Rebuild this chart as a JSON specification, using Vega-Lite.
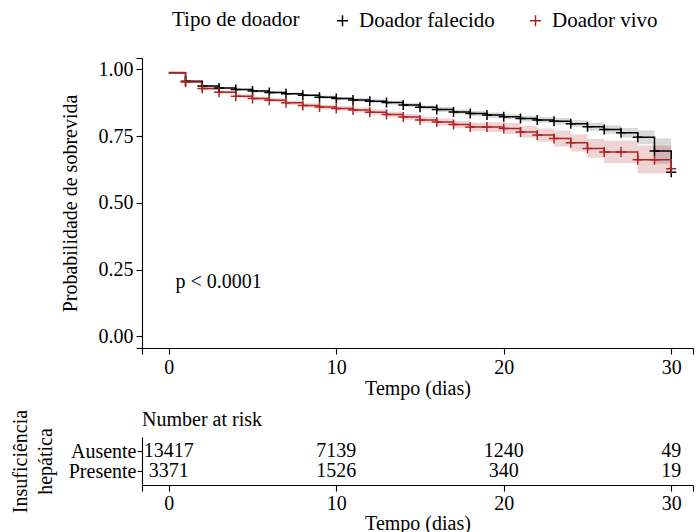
{
  "$schema": "https://vega.github.io/schema/vega-lite/v6.json",
  "padding": {"left": 10, "top": 10, "right": 2, "bottom": 0},
  "background": "white",
  "config": {
    "font": "Liberation Serif",
    "view": {"stroke": null},
    "axis": {"grid": false, "labelFontSize": 20, "titleFontSize": 20, "titleFontWeight": "normal", "labelColor": "black", "titleColor": "black", "domainColor": "black", "tickColor": "black", "domainWidth": 1.1, "tickWidth": 1.1, "tickSize": 6},
    "legend": {"titleFontSize": 21, "labelFontSize": 21, "titleFontWeight": "normal", "titleColor": "black", "labelColor": "black"},
    "text": {"font": "Liberation Serif", "fontSize": 20, "color": "black"},
    "title": {"font": "Liberation Serif", "fontSize": 20, "fontWeight": "normal", "color": "black"}
  },
  "datasets": {
    "km": [
      {"grupo": "Doador falecido", "t": 0, "s": 0.988, "lo": 0.984, "hi": 0.992},
      {"grupo": "Doador falecido", "t": 1, "s": 0.956, "lo": 0.952, "hi": 0.960},
      {"grupo": "Doador falecido", "t": 2, "s": 0.938, "lo": 0.934, "hi": 0.942},
      {"grupo": "Doador falecido", "t": 3, "s": 0.931, "lo": 0.927, "hi": 0.935},
      {"grupo": "Doador falecido", "t": 4, "s": 0.925, "lo": 0.921, "hi": 0.929},
      {"grupo": "Doador falecido", "t": 5, "s": 0.919, "lo": 0.914, "hi": 0.924},
      {"grupo": "Doador falecido", "t": 6, "s": 0.914, "lo": 0.909, "hi": 0.919},
      {"grupo": "Doador falecido", "t": 7, "s": 0.909, "lo": 0.904, "hi": 0.914},
      {"grupo": "Doador falecido", "t": 8, "s": 0.903, "lo": 0.898, "hi": 0.908},
      {"grupo": "Doador falecido", "t": 9, "s": 0.896, "lo": 0.890, "hi": 0.902},
      {"grupo": "Doador falecido", "t": 10, "s": 0.891, "lo": 0.885, "hi": 0.897},
      {"grupo": "Doador falecido", "t": 11, "s": 0.886, "lo": 0.879, "hi": 0.893},
      {"grupo": "Doador falecido", "t": 12, "s": 0.881, "lo": 0.874, "hi": 0.888},
      {"grupo": "Doador falecido", "t": 13, "s": 0.876, "lo": 0.869, "hi": 0.883},
      {"grupo": "Doador falecido", "t": 14, "s": 0.867, "lo": 0.859, "hi": 0.875},
      {"grupo": "Doador falecido", "t": 15, "s": 0.858, "lo": 0.850, "hi": 0.866},
      {"grupo": "Doador falecido", "t": 16, "s": 0.850, "lo": 0.841, "hi": 0.859},
      {"grupo": "Doador falecido", "t": 17, "s": 0.841, "lo": 0.832, "hi": 0.850},
      {"grupo": "Doador falecido", "t": 18, "s": 0.835, "lo": 0.826, "hi": 0.844},
      {"grupo": "Doador falecido", "t": 19, "s": 0.829, "lo": 0.819, "hi": 0.839},
      {"grupo": "Doador falecido", "t": 20, "s": 0.823, "lo": 0.813, "hi": 0.833},
      {"grupo": "Doador falecido", "t": 21, "s": 0.816, "lo": 0.805, "hi": 0.827},
      {"grupo": "Doador falecido", "t": 22, "s": 0.811, "lo": 0.800, "hi": 0.822},
      {"grupo": "Doador falecido", "t": 23, "s": 0.806, "lo": 0.794, "hi": 0.818},
      {"grupo": "Doador falecido", "t": 24, "s": 0.797, "lo": 0.784, "hi": 0.810},
      {"grupo": "Doador falecido", "t": 25, "s": 0.785, "lo": 0.770, "hi": 0.800},
      {"grupo": "Doador falecido", "t": 26, "s": 0.775, "lo": 0.759, "hi": 0.791},
      {"grupo": "Doador falecido", "t": 27, "s": 0.763, "lo": 0.745, "hi": 0.781},
      {"grupo": "Doador falecido", "t": 28, "s": 0.746, "lo": 0.720, "hi": 0.772},
      {"grupo": "Doador falecido", "t": 29, "s": 0.694, "lo": 0.647, "hi": 0.741},
      {"grupo": "Doador falecido", "t": 30, "s": 0.615, "lo": 0.565, "hi": 0.665},
      {"grupo": "Doador vivo", "t": 0, "s": 0.988, "lo": 0.983, "hi": 0.993},
      {"grupo": "Doador vivo", "t": 1, "s": 0.953, "lo": 0.948, "hi": 0.958},
      {"grupo": "Doador vivo", "t": 2, "s": 0.929, "lo": 0.923, "hi": 0.935},
      {"grupo": "Doador vivo", "t": 3, "s": 0.915, "lo": 0.909, "hi": 0.921},
      {"grupo": "Doador vivo", "t": 4, "s": 0.900, "lo": 0.893, "hi": 0.907},
      {"grupo": "Doador vivo", "t": 5, "s": 0.891, "lo": 0.884, "hi": 0.898},
      {"grupo": "Doador vivo", "t": 6, "s": 0.885, "lo": 0.878, "hi": 0.892},
      {"grupo": "Doador vivo", "t": 7, "s": 0.875, "lo": 0.867, "hi": 0.883},
      {"grupo": "Doador vivo", "t": 8, "s": 0.865, "lo": 0.857, "hi": 0.873},
      {"grupo": "Doador vivo", "t": 9, "s": 0.859, "lo": 0.850, "hi": 0.868},
      {"grupo": "Doador vivo", "t": 10, "s": 0.854, "lo": 0.845, "hi": 0.863},
      {"grupo": "Doador vivo", "t": 11, "s": 0.848, "lo": 0.839, "hi": 0.857},
      {"grupo": "Doador vivo", "t": 12, "s": 0.840, "lo": 0.830, "hi": 0.850},
      {"grupo": "Doador vivo", "t": 13, "s": 0.831, "lo": 0.820, "hi": 0.842},
      {"grupo": "Doador vivo", "t": 14, "s": 0.822, "lo": 0.811, "hi": 0.833},
      {"grupo": "Doador vivo", "t": 15, "s": 0.811, "lo": 0.799, "hi": 0.823},
      {"grupo": "Doador vivo", "t": 16, "s": 0.803, "lo": 0.790, "hi": 0.816},
      {"grupo": "Doador vivo", "t": 17, "s": 0.794, "lo": 0.780, "hi": 0.808},
      {"grupo": "Doador vivo", "t": 18, "s": 0.784, "lo": 0.768, "hi": 0.800},
      {"grupo": "Doador vivo", "t": 19, "s": 0.784, "lo": 0.766, "hi": 0.802},
      {"grupo": "Doador vivo", "t": 20, "s": 0.779, "lo": 0.758, "hi": 0.800},
      {"grupo": "Doador vivo", "t": 21, "s": 0.766, "lo": 0.744, "hi": 0.788},
      {"grupo": "Doador vivo", "t": 22, "s": 0.754, "lo": 0.729, "hi": 0.779},
      {"grupo": "Doador vivo", "t": 23, "s": 0.741, "lo": 0.711, "hi": 0.771},
      {"grupo": "Doador vivo", "t": 24, "s": 0.725, "lo": 0.693, "hi": 0.757},
      {"grupo": "Doador vivo", "t": 25, "s": 0.704, "lo": 0.669, "hi": 0.739},
      {"grupo": "Doador vivo", "t": 26, "s": 0.691, "lo": 0.649, "hi": 0.733},
      {"grupo": "Doador vivo", "t": 27, "s": 0.691, "lo": 0.649, "hi": 0.733},
      {"grupo": "Doador vivo", "t": 28, "s": 0.662, "lo": 0.611, "hi": 0.715},
      {"grupo": "Doador vivo", "t": 29, "s": 0.662, "lo": 0.611, "hi": 0.715},
      {"grupo": "Doador vivo", "t": 30, "s": 0.628, "lo": 0.578, "hi": 0.678}
    ],
    "risk": [
      {"grupo": "Ausente", "t": 0, "n": "13417"},
      {"grupo": "Ausente", "t": 10, "n": "7139"},
      {"grupo": "Ausente", "t": 20, "n": "1240"},
      {"grupo": "Ausente", "t": 30, "n": "49"},
      {"grupo": "Presente", "t": 0, "n": "3371"},
      {"grupo": "Presente", "t": 10, "n": "1526"},
      {"grupo": "Presente", "t": 20, "n": "340"},
      {"grupo": "Presente", "t": 30, "n": "19"}
    ],
    "ann": [{"t": 0.4, "y": 0.205, "label": "p < 0.0001"}]
  },
  "bounds": "flush",
  "spacing": 89,
  "vconcat": [
    {
      "width": 551,
      "height": 290,
      "layer": [
        {
          "data": {"name": "km"},
          "transform": [{"filter": "datum.grupo == 'Doador falecido'"}],
          "mark": {"type": "area", "interpolate": "step-after", "opacity": 0.15, "color": "#000000"},
          "encoding": {
            "x": {"field": "t", "type": "quantitative", "scale": {"domain": [-1.6, 31.3], "nice": false, "zero": false},
              "axis": {"title": "Tempo (dias)", "values": [-1.6, 0, 10, 20, 30, 31.3], "labelExpr": "datum.value < -1 || datum.value > 30.5 ? '' : datum.label", "labelPadding": 3, "titlePadding": 1}},
            "y": {"field": "lo", "type": "quantitative", "scale": {"domain": [-0.044, 1.043], "nice": false, "zero": false},
              "axis": {"title": "Probabilidade de sobrevida", "values": [-0.044, 0, 0.25, 0.5, 0.75, 1, 1.043], "labelExpr": "datum.value < -0.01 || datum.value > 1.01 ? '' : format(datum.value, '.2f')", "labelPadding": 3, "titlePadding": 18}},
            "y2": {"field": "hi"}
          }
        },
        {
          "data": {"name": "km"},
          "transform": [{"filter": "datum.grupo == 'Doador vivo'"}],
          "mark": {"type": "area", "interpolate": "step-after", "opacity": 0.2, "color": "#B22222"},
          "encoding": {
            "x": {"field": "t", "type": "quantitative"},
            "y": {"field": "lo", "type": "quantitative"},
            "y2": {"field": "hi"}
          }
        },
        {
          "data": {"name": "km"},
          "mark": {"type": "line", "interpolate": "step-after", "strokeWidth": 1.5},
          "encoding": {
            "x": {"field": "t", "type": "quantitative"},
            "y": {"field": "s", "type": "quantitative"},
            "color": {"field": "grupo", "type": "nominal", "scale": {"domain": ["Doador falecido", "Doador vivo"], "range": ["#000000", "#B22222"]},
              "legend": {"title": "Tipo de doador", "orient": "none", "legendX": 30, "legendY": -48, "direction": "horizontal", "titleOrient": "left", "titlePadding": 32, "labelOffset": 6, "columnPadding": 30, "symbolType": "M-1,0H1M0,-1V1", "symbolSize": 120, "symbolStrokeWidth": 1.5}}
          }
        },
        {
          "data": {"name": "km"},
          "transform": [{"filter": "datum.t >= 1"}],
          "mark": {"type": "point", "shape": "M-1,0H1M0,-1V1", "size": 100, "filled": false, "strokeWidth": 1.5, "opacity": 1},
          "encoding": {
            "x": {"field": "t", "type": "quantitative"},
            "y": {"field": "s", "type": "quantitative"},
            "color": {"field": "grupo", "type": "nominal", "scale": {"domain": ["Doador falecido", "Doador vivo"], "range": ["#000000", "#B22222"]},
              "legend": {"title": "Tipo de doador", "orient": "none", "legendX": 30, "legendY": -48, "direction": "horizontal", "titleOrient": "left", "titlePadding": 32, "labelOffset": 6, "columnPadding": 30, "symbolType": "M-1,0H1M0,-1V1", "symbolSize": 120, "symbolStrokeWidth": 1.5}}
          }
        },
        {
          "data": {"name": "ann"},
          "mark": {"type": "text", "align": "left", "baseline": "middle", "fontSize": 20},
          "encoding": {
            "x": {"field": "t", "type": "quantitative"},
            "y": {"field": "y", "type": "quantitative"},
            "text": {"field": "label"}
          }
        }
      ]
    },
    {
      "width": 551,
      "height": 48,
      "title": {"text": "Number at risk", "anchor": "start", "frame": "group", "fontSize": 20, "fontWeight": "normal", "offset": -21},
      "data": {"name": "risk"},
      "mark": {"type": "text", "fontSize": 20, "baseline": "middle"},
      "encoding": {
        "x": {"field": "t", "type": "quantitative", "scale": {"domain": [-1.6, 31.3], "nice": false, "zero": false},
          "axis": {"title": "Tempo (dias)", "values": [-1.6, 0, 10, 20, 30, 31.3], "labelExpr": "datum.value < -1 || datum.value > 30.5 ? '' : datum.label", "labelPadding": 2, "titlePadding": 0}},
        "y": {"field": "grupo", "type": "nominal", "scale": {"type": "point", "padding": 0.7, "domain": ["Ausente", "Presente"]},
          "axis": {"title": ["Insuficiência", "hepática"], "tickSize": 5, "labelPadding": 1, "titlePadding": 13, "titleLineHeight": 25}},
        "text": {"field": "n"}
      }
    }
  ]
}
